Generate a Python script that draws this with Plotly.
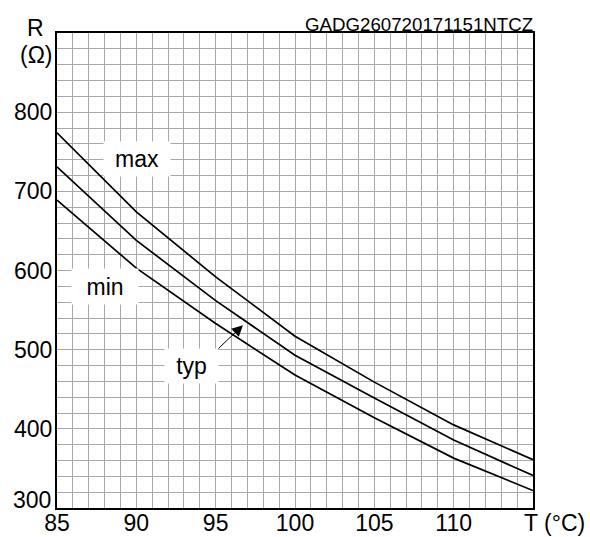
import plotly.graph_objects as go

temps = [85, 90, 95, 100, 105, 110, 115]
r_max = [774, 674, 592, 517, 459, 405, 361]
r_typ = [731, 638, 562, 493, 439, 386, 341]
r_min = [689, 603, 533, 468, 414, 363, 322]

x_ticks = [85, 90, 95, 100, 105, 110]
y_ticks = [400, 500, 600, 700, 800]
y_bottom_label = "300"

FONT = "Liberation Sans, Arial, sans-serif"
W, H = 590, 537
L, R, T, B = 57, 57, 33, 29
pw, ph = W - L - R, H - T - B

def px(xp):
    return (xp - L) / pw

def py(yp):
    return (H - B - yp) / ph

fig = go.Figure()
for ys in (r_max, r_typ, r_min):
    fig.add_trace(go.Scatter(x=temps, y=ys, mode="lines",
                             line=dict(color="black", width=1.7),
                             showlegend=False, hoverinfo="skip"))

grid_c = "#a8a8a8"
fig.update_layout(
    width=W, height=H,
    margin=dict(l=L, r=R, t=T, b=B, autoexpand=False),
    paper_bgcolor="white", plot_bgcolor="white",
    font=dict(family=FONT, color="black", size=23),
    xaxis=dict(range=[85, 115], tickvals=x_ticks, ticks="", automargin=False,
               ticklabelstandoff=-7,
               showline=True, linecolor="black", linewidth=2, mirror=True,
               showgrid=True, gridcolor=grid_c, gridwidth=1, zeroline=False,
               minor=dict(tick0=85, dtick=1, showgrid=True, gridcolor=grid_c, gridwidth=1),
               tickfont=dict(size=23)),
    yaxis=dict(range=[300, 900], tickvals=y_ticks, ticks="", automargin=False,
               ticklabelstandoff=-2,
               showline=True, linecolor="black", linewidth=2, mirror=True,
               showgrid=True, gridcolor=grid_c, gridwidth=1, zeroline=False,
               minor=dict(tick0=300, dtick=20, showgrid=True, gridcolor=grid_c, gridwidth=1),
               tickfont=dict(size=23)),
)

# lowest y label lifted slightly above its gridline, as in the reference
fig.add_annotation(x=px(53), y=py(500), xref="paper", yref="paper", text=y_bottom_label,
                   showarrow=False, font=dict(size=23), xanchor="right", yanchor="middle")

# curve labels with white boxes
labels = [("max", 90.04, 741, 64, 32), ("min", 88.02, 580, 64, 33), ("typ", 93.48, 480, 51, 32)]
for txt, x, y, w, h in labels:
    fig.add_annotation(x=x, y=y, xref="x", yref="y", text=txt, showarrow=False,
                       bgcolor="white", width=w, height=h, font=dict(size=23))

# arrow to typ curve
fig.add_annotation(x=96.72, y=531, ax=95.08, ay=499.6, xref="x", yref="y",
                   axref="x", ayref="y", text="", showarrow=True,
                   arrowhead=2, arrowsize=2.2, arrowwidth=1, arrowcolor="black")

# axis titles
fig.add_annotation(x=px(35), y=py(28), xref="paper", yref="paper", text="R",
                   showarrow=False, font=dict(size=23), xanchor="center", yanchor="middle")
fig.add_annotation(x=px(36), y=py(55), xref="paper", yref="paper", text="(Ω)",
                   showarrow=False, font=dict(size=23), xanchor="center", yanchor="middle")
fig.add_annotation(x=px(522), y=py(523), xref="paper", yref="paper", text="T (°C)",
                   showarrow=False, font=dict(size=23), xanchor="left", yanchor="middle")
fig.add_annotation(x=1.0, y=py(24), xref="paper", yref="paper", text="GADG260720171151NTCZ",
                   showarrow=False, font=dict(size=18.7), xanchor="right", yanchor="middle",
                   xshift=2)

fig.write_html("out.html")
